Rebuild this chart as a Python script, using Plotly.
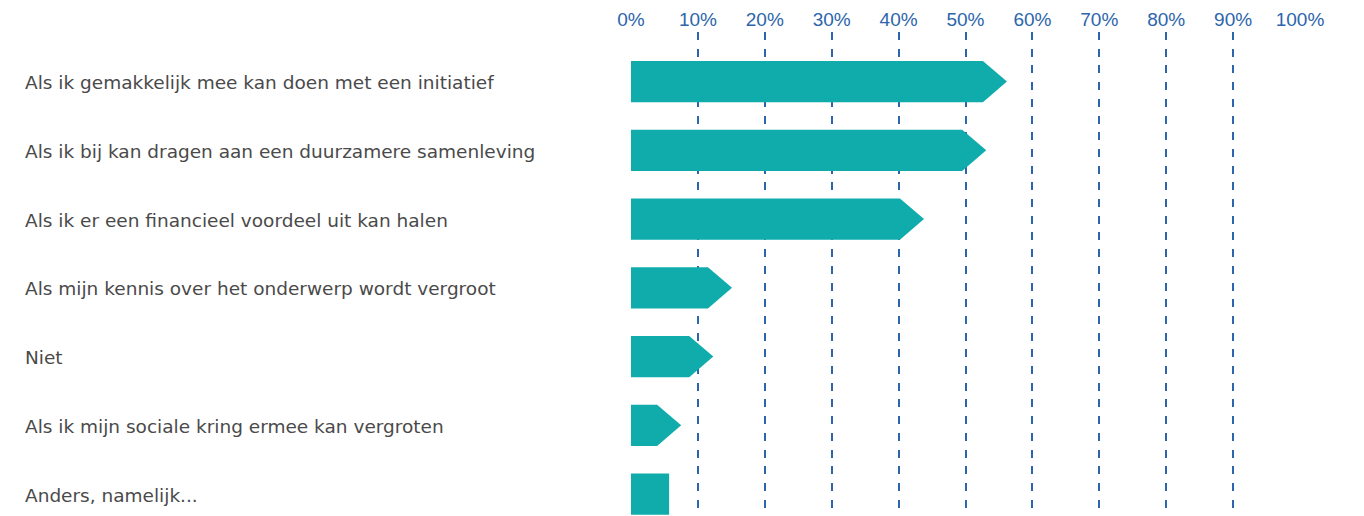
import plotly.graph_objects as go

# Survey answers (top to bottom) and share of respondents in percent
categories = [
    "Als ik gemakkelijk mee kan doen met een initiatief",
    "Als ik bij kan dragen aan een duurzamere samenleving",
    "Als ik er een financieel voordeel uit kan halen",
    "Als mijn kennis over het onderwerp wordt vergroot",
    "Niet",
    "Als ik mijn sociale kring ermee kan vergroten",
    "Anders, namelijk...",
]
values = [56.2, 53.1, 43.8, 15.1, 12.3, 7.5, 5.7]
arrow_head = [True, True, True, True, True, True, False]

tick_values = [0, 10, 20, 30, 40, 50, 60, 70, 80, 90, 100]
tick_labels = [f"{v}%" for v in tick_values]

BAR_COLOR = "#10acac"
AXIS_BLUE = "#2c65ab"
LABEL_GRAY = "#4a4a4a"
HEAD = 3.6        # arrow head length in percentage points
HALF = 0.3        # half bar thickness in category units

fig = go.Figure()

for i, (cat, val, head) in enumerate(zip(categories, values, arrow_head)):
    if head:
        body = val - HEAD
        xs = [0, body, val, body, 0, 0]
        ys = [i - HALF, i - HALF, i, i + HALF, i + HALF, i - HALF]
    else:
        xs = [0, val, val, 0, 0]
        ys = [i - HALF, i - HALF, i + HALF, i + HALF, i - HALF]
    fig.add_trace(go.Scatter(
        x=xs, y=ys, mode="lines", fill="toself",
        fillcolor=BAR_COLOR, line=dict(width=0, color=BAR_COLOR),
        hoverinfo="text", text=f"{cat}: {val}%", showlegend=False,
    ))
    fig.add_annotation(
        x=-0.906, xref="paper", xshift=-2, y=i, yref="y", yshift=-1,
        text=cat, showarrow=False, xanchor="left", yanchor="middle",
        font=dict(family="DejaVu Sans", size=18.5, color=LABEL_GRAY),
    )

fig.update_xaxes(
    range=[0, 100], side="top",
    tickvals=tick_values, ticktext=tick_labels,
    tickfont=dict(family="Liberation Sans, Arial", size=19, color=AXIS_BLUE),
    showgrid=True, gridcolor=AXIS_BLUE, gridwidth=1.6, griddash="8px,8.7px",
    zeroline=False, showline=False, ticks="", ticklabelstandoff=1,
)
fig.update_yaxes(
    range=[6.32, -0.72], showticklabels=False, showgrid=False,
    zeroline=False, showline=False,
)

fig.update_layout(
    width=1364, height=516,
    margin=dict(l=631, r=64, t=32, b=0),
    paper_bgcolor="white", plot_bgcolor="white",
)

fig.write_html("out.html")
